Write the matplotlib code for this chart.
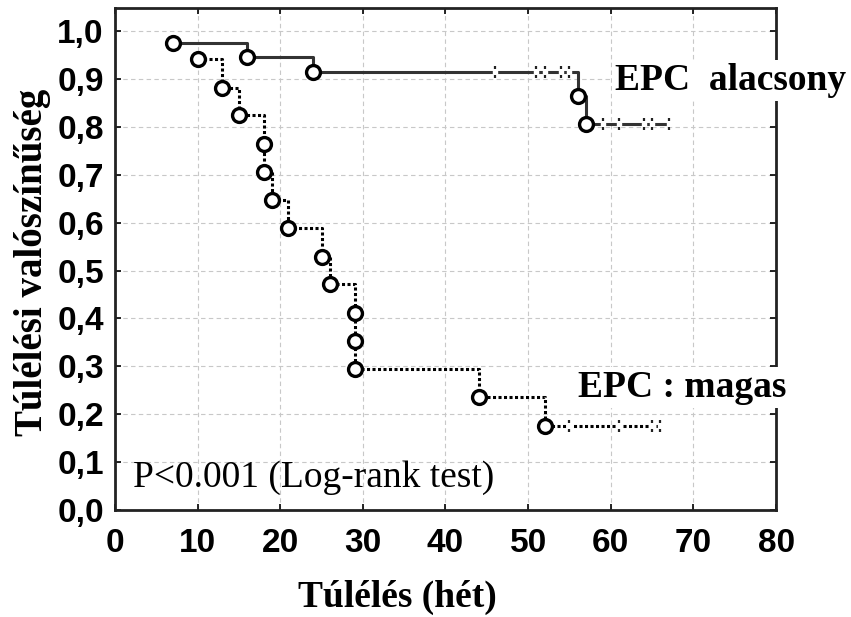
import numpy as np
import matplotlib
matplotlib.use("Agg")
import matplotlib.pyplot as plt
from matplotlib.path import Path

# EPC alacsony (felső görbe): események és cenzorált időpontok
alacsony_t = [7, 16, 24, 56, 57]
alacsony_s = [0.975, 0.946, 0.915, 0.864, 0.806]
alacsony_cenzor = [46, 51, 52, 54, 55, 59, 61, 64, 65, 67]

# EPC magas (alsó görbe)
magas_t = [10, 13, 15, 18, 18, 19, 21, 25, 26, 29, 29, 29, 44, 52]
magas_s = [0.941, 0.882, 0.824, 0.765, 0.706, 0.647, 0.588, 0.529,
           0.471, 0.412, 0.353, 0.294, 0.235, 0.176]
magas_cenzor = [55, 61, 65, 66]

x_ticks = [0, 10, 20, 30, 40, 50, 60, 70, 80]
y_ticks = [0.0, 0.1, 0.2, 0.3, 0.4, 0.5, 0.6, 0.7, 0.8, 0.9, 1.0]
y_labels = ["0,0", "0,1", "0,2", "0,3", "0,4", "0,5", "0,6", "0,7", "0,8", "0,9", "1,0"]

serif = "Liberation Serif"
sans = "Liberation Sans"

# cenzor jel: két kis pont a vonal felett és alatt
cenzor_jel = Path([(0, -1), (0, -0.55), (0, 0.55), (0, 1)],
                  [Path.MOVETO, Path.LINETO, Path.MOVETO, Path.LINETO])

fig = plt.figure(figsize=(8.51, 6.17), dpi=100)
ax = fig.add_axes([0.135, 0.1734, 0.777, 0.8136])


def gorbe(ax, t, s, cenzor, ls, color):
    t = list(t)
    s = list(s)
    veg = max(cenzor)
    ax.step(t + [veg], s + [s[-1]], where="post", color=color, lw=2.2,
            linestyle=ls, zorder=3, solid_capstyle="butt")
    # cenzorált pontok értéke a megelőző eseményből
    idx = np.searchsorted(t, cenzor, side="right") - 1
    cs = [s[i] for i in idx]
    ax.plot(cenzor, cs, linestyle="none", marker="s", ms=3.5,
            mfc="white", mec="white", zorder=4)
    ax.plot(cenzor, cs, linestyle="none", marker=cenzor_jel, ms=9,
            mec="#222222", mew=1.6, zorder=4)
    ax.plot(t, s, linestyle="none", marker="o", ms=10, mfc="white",
            mec="black", mew=2.4, zorder=5)


gorbe(ax, alacsony_t, alacsony_s, alacsony_cenzor, "-", "#333333")
gorbe(ax, magas_t, magas_s, magas_cenzor, (0, (1, 0.8)), "black")

ax.set_xlim(0, 80)
ax.set_ylim(0, 1.048)
ax.set_xticks(x_ticks)
ax.set_yticks(y_ticks)
ax.set_yticklabels(y_labels)
ax.grid(True, color="#c8c8c8", linestyle=(0, (4, 3)), lw=0.8)
ax.set_axisbelow(True)
ax.tick_params(direction="in", top=True, right=True, length=4, width=1.2,
               labelsize=24, pad=8)
for lab in ax.get_xticklabels() + ax.get_yticklabels():
    lab.set_fontfamily(sans)
    lab.set_fontweight("bold")
ax.tick_params(axis="x", pad=13)
for sp in ax.spines.values():
    sp.set_linewidth(2)
    sp.set_color("#222222")

box = dict(facecolor="white", edgecolor="none", pad=2)
ax.text(60.5, 0.877, "EPC  alacsony", fontsize=27, fontweight="bold",
        family=serif, va="baseline", ha="left", bbox=box, clip_on=False, zorder=6)
ax.text(56.0, 0.236, "EPC : magas", fontsize=27, fontweight="bold",
        family=serif, va="baseline", ha="left", bbox=box, clip_on=False, zorder=6)
ax.text(2.2, 0.048, "P<0.001 (Log-rank test)", fontsize=27, family=serif,
        va="baseline", ha="left", zorder=6)

fig.text(397 / 851, 1 - 597 / 617, "Túlélés (hét)", fontsize=27, fontweight="bold",
         family=serif, ha="center", va="center")
fig.text(33 / 851, 1 - 262 / 617, "Túlélési valószínűség", fontsize=28,
         fontweight="bold", family=serif, ha="center", va="center", rotation=90)

fig.savefig("out.png", dpi=100)
